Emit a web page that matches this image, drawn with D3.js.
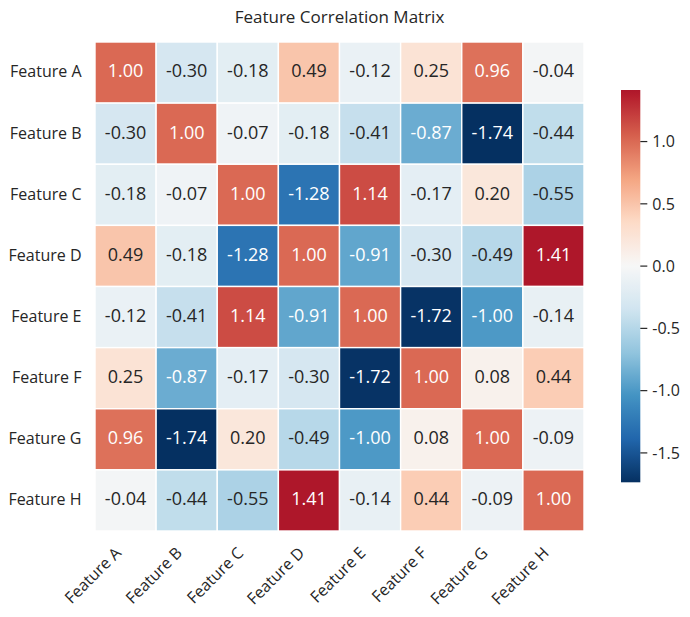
<!DOCTYPE html>
<html>
<head>
<meta charset="utf-8">
<script src="https://cdn.jsdelivr.net/npm/d3@7"></script>
<style>
  html, body { margin: 0; padding: 0; background: #fff; }
  svg { display: block; font-family: "Open Sans", "Noto Sans", sans-serif; }
</style>
</head>
<body>
<svg id="chart" width="690" height="617"></svg>
<script>
const title = "Feature Correlation Matrix";
const features = ["Feature A","Feature B","Feature C","Feature D","Feature E","Feature F","Feature G","Feature H"];
const rowA = [ 1.00, -0.30, -0.18,  0.49, -0.12,  0.25,  0.96, -0.04];
const rowB = [-0.30,  1.00, -0.07, -0.18, -0.41, -0.87, -1.74, -0.44];
const rowC = [-0.18, -0.07,  1.00, -1.28,  1.14, -0.17,  0.20, -0.55];
const rowD = [ 0.49, -0.18, -1.28,  1.00, -0.91, -0.30, -0.49,  1.41];
const rowE = [-0.12, -0.41,  1.14, -0.91,  1.00, -1.72, -1.00, -0.14];
const rowF = [ 0.25, -0.87, -0.17, -0.30, -1.72,  1.00,  0.08,  0.44];
const rowG = [ 0.96, -1.74,  0.20, -0.49, -1.00,  0.08,  1.00, -0.09];
const rowH = [-0.04, -0.44, -0.55,  1.41, -0.14,  0.44, -0.09,  1.00];
const colorbarTicks = [-1.5, -1.0, -0.5, 0.0, 0.5, 1.0];
const rdBuR = ["#053061","#2166ac","#4393c3","#92c5de","#d1e5f0","#f7f7f7","#fddbc7","#f4a582","#d6604d","#b2182b","#67001f"];

const matrix = [rowA,rowB,rowC,rowD,rowE,rowF,rowG,rowH];
const cells = [];
matrix.forEach((row, i) => row.forEach((v, j) => cells.push({row: features[i], col: features[j], v})));

const vmin = d3.min(cells, d => d.v), vmax = d3.max(cells, d => d.v);
const vrange = Math.max(vmax, -vmin);
const interp = d3.piecewise(d3.interpolateRgb, rdBuR);
const norm = d3.scaleLinear().domain([-vrange, vrange]).range([0, 1]);
const color = v => interp(norm(v));

function lum(c) {
  const rgb = d3.rgb(c);
  const f = x => { x /= 255; return x <= 0.03928 ? x / 12.92 : Math.pow((x + 0.055) / 1.055, 2.4); };
  return 0.2126 * f(rgb.r) + 0.7152 * f(rgb.g) + 0.0722 * f(rgb.b);
}

const svg = d3.select("#chart");
const mLeft = 95, mTop = 42, mRight = 584, mBottom = 531;

const x = d3.scaleBand().domain(features).range([mLeft, mRight]);
const y = d3.scaleBand().domain(features).range([mTop, mBottom]);

svg.append("text")
  .attr("x", (mLeft + mRight) / 2).attr("y", 22.7)
  .attr("text-anchor", "middle")
  .attr("font-size", 17).attr("fill", "#262626")
  .text(title);

svg.append("g").selectAll("rect").data(cells).join("rect")
  .attr("x", d => x(d.col)).attr("y", d => y(d.row))
  .attr("width", x.bandwidth()).attr("height", y.bandwidth())
  .attr("fill", d => color(d.v))
  .attr("stroke", "#fff").attr("stroke-width", 1.4);

svg.append("g").selectAll("text").data(cells).join("text")
  .attr("x", d => x(d.col) + x.bandwidth() / 2)
  .attr("y", d => y(d.row) + y.bandwidth() / 2 + 4.9)
  .attr("text-anchor", "middle")
  .attr("font-size", 18)
  .attr("fill", d => lum(color(d.v)) > 0.408 ? "#262626" : "#ffffff")
  .text(d => d.v.toFixed(2));

// y axis labels
const yAxis = d3.axisLeft(y).tickSize(0).tickPadding(13.5);
const yg = svg.append("g").attr("transform", `translate(${mLeft},0)`).call(yAxis);
yg.select(".domain").remove();
yg.selectAll("text").attr("font-size", 16).attr("fill", "#262626")
  .attr("font-family", "'Open Sans', 'Noto Sans', sans-serif")
  .attr("dy", null).attr("y", 4.8);

// x axis labels rotated
const xAxis = d3.axisBottom(x).tickSize(0).tickPadding(0);
const xg = svg.append("g").attr("transform", `translate(0,${mBottom})`).call(xAxis);
xg.select(".domain").remove();
xg.selectAll("text").attr("font-size", 16).attr("fill", "#262626")
  .attr("font-family", "'Open Sans', 'Noto Sans', sans-serif")
  .attr("dy", null).attr("y", 0)
  .attr("text-anchor", "end")
  .attr("transform", "translate(-3.5,23) rotate(-45)");

// colorbar
const cbX = 621, cbW = 19.3, cbTop = 90, cbBottom = 482.3;
const cbScale = d3.scaleLinear().domain([vmin, vmax]).range([cbBottom, cbTop]);
const defs = svg.append("defs");
const grad = defs.append("linearGradient").attr("id", "cbgrad")
  .attr("x1", 0).attr("y1", 1).attr("x2", 0).attr("y2", 0);
d3.range(0, 101).forEach(k => {
  const v = vmin + (vmax - vmin) * k / 100;
  grad.append("stop").attr("offset", (k) + "%").attr("stop-color", color(v));
});
svg.append("rect").attr("x", cbX).attr("y", cbTop).attr("width", cbW)
  .attr("height", cbBottom - cbTop).attr("fill", "url(#cbgrad)");

const cbAxis = d3.axisRight(cbScale).tickValues(colorbarTicks).tickSize(7).tickPadding(5)
  .tickFormat(d => d3.format(".1f")(d).replace("−", "-"));
const cg = svg.append("g").attr("transform", `translate(${cbX + cbW},0)`).call(cbAxis);
cg.select(".domain").remove();
cg.selectAll("line").attr("stroke", "#262626").attr("stroke-width", 1.2);
cg.selectAll("text").attr("font-size", 16).attr("fill", "#262626")
  .attr("font-family", "'Open Sans', 'Noto Sans', sans-serif")
  .attr("dy", null).attr("y", 5.8);
</script>
</body>
</html>
